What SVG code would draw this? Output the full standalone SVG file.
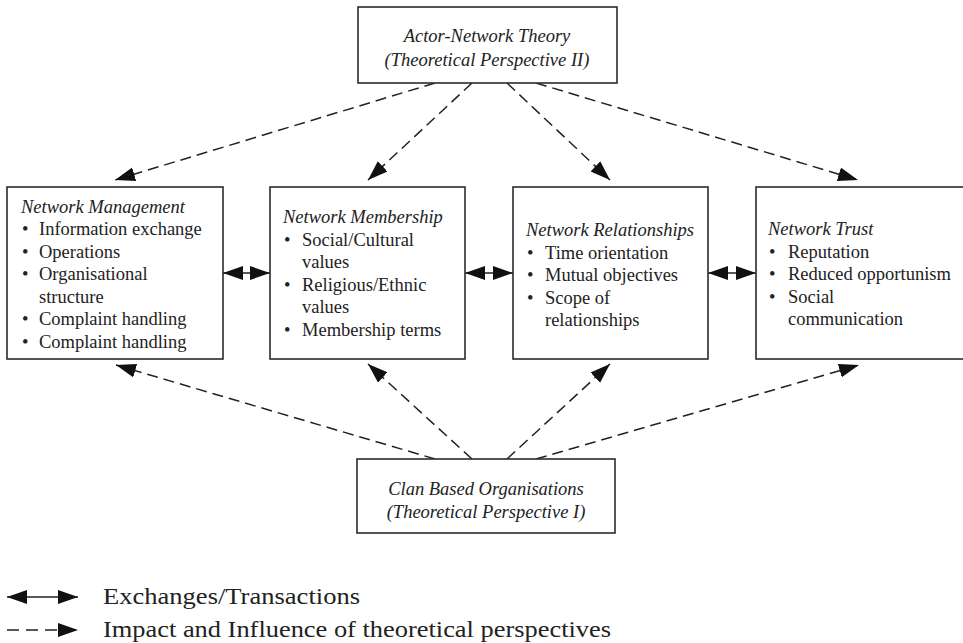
<svg xmlns="http://www.w3.org/2000/svg" width="963" height="643" viewBox="0 0 963 643">
<style>
.box{fill:#fff;stroke:#2b2b2b;stroke-width:1.6}
.t{font-family:"Liberation Serif","Times New Roman",serif;font-size:18.5px;fill:#222}
.i{font-style:italic}
.c{text-anchor:middle}
.solid{stroke:#222;stroke-width:1.6;fill:none}
.dash{stroke:#222;stroke-width:1.5;fill:none;stroke-dasharray:11 6}
.lg{font-family:"Liberation Serif","Times New Roman",serif;font-size:24px;fill:#222}
</style>
<defs>
<marker id="ah" markerUnits="userSpaceOnUse" markerWidth="22" markerHeight="15" refX="20" refY="7" orient="auto-start-reverse">
<path d="M0,0 L20,7 L0,14 z" fill="#111"/>
</marker>
</defs>
<rect width="963" height="643" fill="#fff"/>

<g id="connectors">
<line class="dash" x1="435" y1="83" x2="115" y2="180" marker-end="url(#ah)"/>
<line class="dash" x1="472" y1="83" x2="368" y2="180" marker-end="url(#ah)"/>
<line class="dash" x1="507" y1="83" x2="610" y2="180" marker-end="url(#ah)"/>
<line class="dash" x1="536" y1="83" x2="858" y2="180" marker-end="url(#ah)"/>
<line class="dash" x1="435" y1="459" x2="116" y2="365" marker-end="url(#ah)"/>
<line class="dash" x1="472" y1="459" x2="368" y2="364" marker-end="url(#ah)"/>
<line class="dash" x1="507" y1="459" x2="610" y2="364" marker-end="url(#ah)"/>
<line class="dash" x1="536" y1="459" x2="859" y2="365" marker-end="url(#ah)"/>
<line class="solid" x1="223" y1="273" x2="270" y2="273" marker-start="url(#ah)" marker-end="url(#ah)"/>
<line class="solid" x1="465" y1="273" x2="513" y2="273" marker-start="url(#ah)" marker-end="url(#ah)"/>
<line class="solid" x1="708" y1="273" x2="756" y2="273" marker-start="url(#ah)" marker-end="url(#ah)"/>
</g>

<g id="actor-network">
<rect class="box" x="358" y="7" width="259" height="76"/>
<text class="t i c" x="487" y="42">Actor-Network Theory</text>
<text class="t i c" x="487" y="66">(Theoretical Perspective II)</text>
</g>

<g id="clan">
<rect class="box" x="357" y="459" width="258" height="74"/>
<text class="t i c" x="486" y="495">Clan Based Organisations</text>
<text class="t i c" x="486" y="518">(Theoretical Perspective I)</text>
</g>

<g id="management">
<rect class="box" x="7" y="187" width="216" height="172"/>
<text class="t i" x="21" y="213">Network Management</text>
<text class="t" x="22" y="235">•</text><text class="t" x="39" y="235">Information exchange</text>
<text class="t" x="22" y="257.5">•</text><text class="t" x="39" y="257.5">Operations</text>
<text class="t" x="22" y="280">•</text><text class="t" x="39" y="280">Organisational</text>
<text class="t" x="39" y="302.5">structure</text>
<text class="t" x="22" y="325">•</text><text class="t" x="39" y="325">Complaint handling</text>
<text class="t" x="22" y="347.5">•</text><text class="t" x="39" y="347.5">Complaint handling</text>
</g>

<g id="membership">
<rect class="box" x="270" y="187" width="195" height="172"/>
<text class="t i" x="283" y="223">Network Membership</text>
<text class="t" x="284" y="245.5">•</text><text class="t" x="302" y="245.5">Social/Cultural</text>
<text class="t" x="302" y="268">values</text>
<text class="t" x="284" y="290.5">•</text><text class="t" x="302" y="290.5">Religious/Ethnic</text>
<text class="t" x="302" y="313">values</text>
<text class="t" x="284" y="335.5">•</text><text class="t" x="302" y="335.5">Membership terms</text>
</g>

<g id="relationships">
<rect class="box" x="513" y="187" width="195" height="172"/>
<text class="t i" x="526" y="236">Network Relationships</text>
<text class="t" x="527" y="258.5">•</text><text class="t" x="545" y="258.5">Time orientation</text>
<text class="t" x="527" y="281">•</text><text class="t" x="545" y="281">Mutual objectives</text>
<text class="t" x="527" y="303.5">•</text><text class="t" x="545" y="303.5">Scope of</text>
<text class="t" x="545" y="326">relationships</text>
</g>

<g id="trust">
<rect class="box" x="756" y="187" width="212" height="172"/>
<text class="t i" x="768" y="235">Network Trust</text>
<text class="t" x="769" y="257.5">•</text><text class="t" x="788" y="257.5">Reputation</text>
<text class="t" x="769" y="280">•</text><text class="t" x="788" y="280">Reduced opportunism</text>
<text class="t" x="769" y="302.5">•</text><text class="t" x="788" y="302.5">Social</text>
<text class="t" x="788" y="325">communication</text>
</g>

<g id="legend">
<line class="solid" x1="7" y1="597" x2="78" y2="597" marker-start="url(#ah)" marker-end="url(#ah)"/>
<line stroke="#222" stroke-width="1.5" stroke-dasharray="12 7" x1="7" y1="630" x2="78" y2="630" marker-end="url(#ah)"/>
<text class="lg" x="103" y="604" textLength="257" lengthAdjust="spacingAndGlyphs">Exchanges/Transactions</text>
<text class="lg" x="103" y="637" textLength="508" lengthAdjust="spacingAndGlyphs">Impact and Influence of theoretical perspectives</text>
</g>
</svg>
